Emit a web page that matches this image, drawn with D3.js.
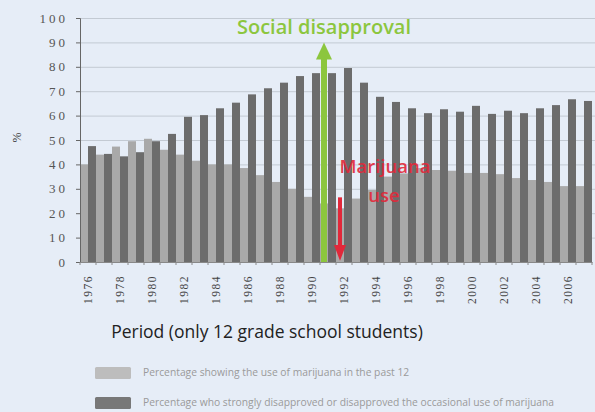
<!DOCTYPE html>
<html>
<head>
<meta charset="utf-8">
<script src="https://cdn.jsdelivr.net/npm/d3@7"></script>
<style>
  html, body { margin: 0; padding: 0; background: #e6edf7; }
  #container { width: 595px; height: 412px; overflow: hidden; }
</style>
</head>
<body>
<div id="container"></div>
<script>
const container = document.querySelector("#container")

const years = d3.range(1976, 2008)
const useValues = [40, 44, 47.3, 49.5, 50.5, 46, 44, 41.5, 40, 40, 38.5, 35.6, 32.8, 30, 26.7, 24,
                   22, 26, 29.5, 35, 36.3, 38.5, 37.7, 37.4, 36.5, 36.5, 36, 34.4, 33.6, 32.8, 31.1, 31.1]
const disapprovalValues = [47.5, 44.3, 43.3, 45, 49.5, 52.5, 59.5, 60.2, 63, 65.3, 68.7, 71.2, 73.5, 76.2, 77.4, 77.4,
                           79.5, 73.5, 67.7, 65.6, 63, 61, 62.6, 61.6, 64, 60.7, 62, 61, 63, 64.3, 66.7, 66]
const yTicks = [0, 10, 20, 30, 40, 50, 60, 70, 80, 90, 100]
const xLabelYears = years.filter(d => d % 2 === 0 && d <= 2006)
const seriesNames = ["use", "disapproval"]
const legendLabels = [
    "Percentage showing the use of marijuana in the past 12",
    "Percentage who strongly disapproved or disapproved the occasional use of marijuana"
]

const width = 595
const height = 412
const margin = {left: 80, right: 3, top: 18, bottom: 150}

const colors = {use: "#a9a9a9", disapproval: "#6c6c6c"}

const svg = d3.create("svg")
    .attr("width", width)
    .attr("height", height)

svg.append("rect").attr("width", width).attr("height", height).attr("fill", "#e6edf7")

const x = d3.scaleBand()
    .domain(years)
    .range([margin.left, width - margin.right])
    .padding(0)

const xInner = d3.scaleBand()
    .domain(seriesNames)
    .range([0, x.bandwidth()])
    .padding(0)

const y = d3.scaleLinear()
    .domain([0, 100])
    .range([height - margin.bottom, margin.top])

// grid
svg.append("g")
    .selectAll("line")
    .data(yTicks.filter(d => d > 0))
    .enter()
    .append("line")
    .attr("x1", margin.left)
    .attr("x2", width)
    .attr("y1", d => y(d) + 0.5)
    .attr("y2", d => y(d) + 0.5)
    .attr("stroke", "#c3cad3")
    .attr("stroke-width", 1)

// bars
const rows = years.map((yr, i) => ({year: yr, use: useValues[i], disapproval: disapprovalValues[i]}))

svg.append("g")
    .selectAll("g")
    .data(rows)
    .enter()
    .append("g")
    .attr("transform", d => `translate(${x(d.year)},0)`)
    .selectAll("rect")
    .data(d => seriesNames.map(k => ({key: k, value: d[k]})))
    .enter()
    .append("rect")
    .attr("x", d => xInner(d.key))
    .attr("width", xInner.bandwidth())
    .attr("y", d => y(d.value))
    .attr("height", d => y(0) - y(d.value))
    .attr("fill", d => colors[d.key])

// y axis
const yAxis = svg.append("g")
    .attr("transform", `translate(${margin.left},0)`)
    .call(d3.axisLeft(y).tickValues(yTicks).tickSize(4).tickPadding(8))
yAxis.select(".domain").attr("stroke", "#666")
yAxis.selectAll(".tick line").attr("stroke", "#666")
yAxis.selectAll("text")
    .attr("fill", "#555")
    .style("font-family", "'Liberation Serif', 'DejaVu Serif', serif")
    .style("font-size", "13px")
    .style("letter-spacing", "3px")

// x axis
const xAxis = svg.append("g")
    .attr("transform", `translate(0,${y(0)})`)
    .call(d3.axisBottom(x).tickValues(xLabelYears).tickSize(0).tickPadding(0))
xAxis.select(".domain").attr("stroke", "#888")
xAxis.selectAll("text")
    .attr("fill", "#444")
    .attr("transform", "rotate(-90)")
    .attr("text-anchor", "end")
    .attr("x", -13)
    .attr("y", 0)
    .attr("dy", "0.35em")
    .style("font-family", "'Liberation Serif', 'DejaVu Serif', serif")
    .style("font-size", "11.5px")
    .style("letter-spacing", "1.5px")

svg.append("g")
    .selectAll("line")
    .data(years.concat([2008]))
    .enter()
    .append("line")
    .attr("x1", d => d === 2008 ? width - margin.right : x(d))
    .attr("x2", d => d === 2008 ? width - margin.right : x(d))
    .attr("y1", y(0))
    .attr("y2", y(0) + 3)
    .attr("stroke", "#888")

// y label
svg.append("text")
    .attr("transform", `translate(21,${y(51)}) rotate(-90)`)
    .attr("text-anchor", "middle")
    .attr("fill", "#333")
    .style("font-family", "'Liberation Serif', serif")
    .style("font-size", "12px")
    .text("%")

// x title
svg.append("text")
    .attr("x", 267)
    .attr("y", 338)
    .attr("text-anchor", "middle")
    .attr("fill", "#222")
    .style("font-family", "'Open Sans', sans-serif")
    .style("font-size", "17.5px")
    .text("Period (only 12 grade school students)")

// green arrow - social disapproval
const green = "#8cc63e"
const gx = x(1991) + xInner("use") + xInner.bandwidth() / 2
svg.append("line")
    .attr("x1", gx).attr("x2", gx)
    .attr("y1", y(0)).attr("y2", y(84))
    .attr("stroke", green)
    .attr("stroke-width", 6)
svg.append("path")
    .attr("d", `M${gx - 8},${y(83)} L${gx},${y(90)} L${gx + 8},${y(83)} Z`)
    .attr("fill", green)
svg.append("text")
    .attr("x", 324)
    .attr("y", 34)
    .attr("text-anchor", "middle")
    .attr("fill", green)
    .style("font-family", "'Open Sans', sans-serif")
    .style("font-weight", 600)
    .style("font-size", "20px")
    .text("Social disapproval")

// red arrow - marijuana use
const red = "#e2283a"
const rx = x(1992) + xInner("use") + xInner.bandwidth() / 2
svg.append("line")
    .attr("x1", rx).attr("x2", rx)
    .attr("y1", y(26.5)).attr("y2", y(5))
    .attr("stroke", red)
    .attr("stroke-width", 4)
svg.append("path")
    .attr("d", `M${rx - 6},${y(7)} L${rx},${y(0.5)} L${rx + 6},${y(7)} Z`)
    .attr("fill", red)
const redText = svg.append("g")
    .attr("fill", red)
    .attr("opacity", 0.9)
    .style("font-family", "'Open Sans', sans-serif")
    .style("font-weight", 600)
    .style("font-size", "18.5px")
    .attr("text-anchor", "middle")
redText.append("text").attr("x", 385).attr("y", 173).text("Marijuana")
redText.append("text").attr("x", 384).attr("y", 202).text("use")

// legend
const legend = svg.append("g")
    .selectAll("g")
    .data(legendLabels)
    .enter()
    .append("g")
    .attr("transform", (d, i) => `translate(95,${367 + i * 30})`)

legend.append("rect")
    .attr("width", 36)
    .attr("height", 12)
    .attr("rx", 1.5)
    .attr("fill", (d, i) => i === 0 ? "#bdbdbd" : "#787878")

legend.append("text")
    .attr("x", 48)
    .attr("y", 9)
    .attr("fill", "#9a9a9a")
    .style("font-family", "'Open Sans', sans-serif")
    .style("font-size", "10.3px")
    .text(d => d)

container.appendChild(svg.node())
</script>
</body>
</html>
